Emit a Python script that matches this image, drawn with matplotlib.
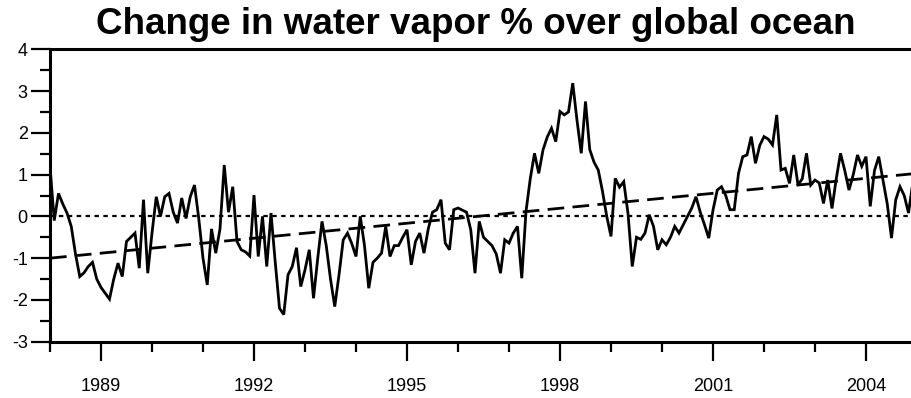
import numpy as np
import matplotlib
matplotlib.use("Agg")
from matplotlib import pyplot as plt
from matplotlib.ticker import MultipleLocator

plt.rcParams['font.family'] = ['Liberation Sans', 'DejaVu Sans']
plt.rcParams['axes.unicode_minus'] = False

# monthly anomalies, Jan 1988 .. Dec 2004
start_year = 1988
vapor = [
    1.20, -0.10, 0.55, 0.30, 0.08, -0.24, -0.90, -1.44, -1.35, -1.20, -1.10, -1.50,
    -1.70, -1.84, -1.98, -1.50, -1.12, -1.44, -0.60, -0.50, -0.40, -1.24, 0.40, -1.36,
    -0.40, 0.47, 0.00, 0.47, 0.55, 0.10, -0.16, 0.44, -0.05, 0.47, 0.75, -0.05,
    -1.00, -1.64, -0.30, -0.88, -0.30, 1.23, 0.10, 0.71, -0.60, -0.80, -0.85, -0.95,
    0.51, -0.96, 0.00, -1.20, 0.08, -1.10, -2.20, -2.35, -1.40, -1.20, -0.75, -1.68,
    -1.28, -0.80, -1.96, -1.00, -0.12, -0.70, -1.50, -2.16, -1.40, -0.56, -0.40, -0.65,
    -0.96, 0.00, -0.70, -1.72, -1.10, -1.00, -0.88, -0.24, -0.96, -0.70, -0.70, -0.50,
    -0.32, -1.16, -0.60, -0.40, -0.88, -0.30, 0.10, 0.16, 0.40, -0.64, -0.80, 0.16,
    0.20, 0.15, 0.10, -0.32, -1.36, -0.12, -0.50, -0.60, -0.70, -0.90, -1.36, -0.56,
    -0.64, -0.40, -0.24, -1.48, 0.12, 0.90, 1.51, 1.03, 1.59, 1.90, 2.11, 1.79,
    2.51, 2.43, 2.50, 3.19, 2.30, 1.51, 2.75, 1.60, 1.30, 1.11, 0.60, 0.00,
    -0.48, 0.91, 0.70, 0.83, 0.07, -1.20, -0.50, -0.55, -0.40, 0.04, -0.24, -0.80,
    -0.56, -0.68, -0.50, -0.24, -0.40, -0.20, 0.00, 0.20, 0.47, 0.10, -0.20, -0.52,
    0.15, 0.63, 0.71, 0.50, 0.16, 0.16, 1.03, 1.43, 1.47, 1.91, 1.27, 1.70,
    1.91, 1.85, 1.71, 2.43, 1.11, 1.15, 0.79, 1.47, 0.75, 0.90, 1.51, 0.75,
    0.87, 0.80, 0.31, 0.87, 0.19, 0.90, 1.51, 1.10, 0.63, 1.00, 1.47, 1.20,
    1.43, 0.24, 1.10, 1.43, 0.87, 0.30, -0.52, 0.40, 0.71, 0.50, 0.08, 0.80,
]
trend_years = [1988, 2005]
trend_vals = [-1.0, 1.03]
year_ticks = [1989, 1992, 1995, 1998, 2001, 2004]

t = start_year + np.arange(len(vapor)) / 12.0

fig = plt.figure(figsize=(9.12, 3.98), dpi=100)
ax = fig.add_axes([50/912, 56.3/398, 867/912, 292.4/398])

ax.plot(t, vapor, color='black', lw=2.0, solid_joinstyle='miter')
ax.plot(trend_years, trend_vals, color='black', lw=2.0, dashes=(6, 3))
ax.axhline(0, color='black', lw=1.6, dashes=(2, 2))

ax.set_xlim(1988, 2005)
ax.set_ylim(-3, 4)
ax.set_xticks(year_ticks)
ax.xaxis.set_minor_locator(MultipleLocator(1))
ax.yaxis.set_major_locator(MultipleLocator(1))
ax.yaxis.set_minor_locator(MultipleLocator(0.5))
ax.tick_params(which='major', direction='out', length=14, width=1.6, labelsize=13)
ax.tick_params(which='minor', direction='out', length=7, width=1.6)
ax.tick_params(axis='x', which='major', pad=12)
ax.tick_params(axis='y', which='major', pad=2)
for s in ax.spines.values():
    s.set_linewidth(2.2)

fig.text(476/912, 1 - 7/398, 'Change in water vapor % over global ocean',
         fontsize=26.5, fontweight='bold', ha='center', va='top')

fig.savefig('out.png', dpi=100)
